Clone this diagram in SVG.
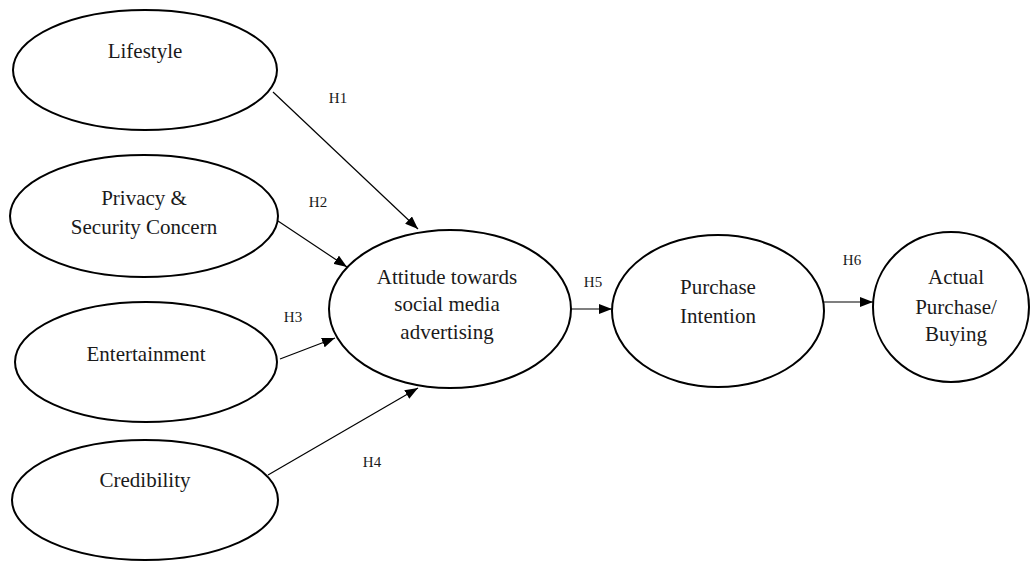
<svg xmlns="http://www.w3.org/2000/svg" width="1030" height="561" viewBox="0 0 1030 561">
<style>
  .node ellipse { fill: #fff; stroke: #000; stroke-width: 2; }
  .node text { font-family: "Liberation Serif", "Times New Roman", serif; font-size: 21px; fill: #1a1a1a; text-anchor: middle; }
  .conn line { stroke: #000; stroke-width: 1.2; marker-end: url(#arr); }
  .lbl { font-family: "Liberation Serif", "Times New Roman", serif; font-size: 15px; fill: #1a1a1a; text-anchor: middle; }
</style>
<defs>
  <marker id="arr" markerWidth="14" markerHeight="10" refX="13" refY="5" orient="auto" markerUnits="userSpaceOnUse">
    <path d="M0,0 L13,5 L0,10 Z" fill="#000"/>
  </marker>
</defs>
<rect width="1030" height="561" fill="#fff"/>
<g id="connectors" class="conn">
  <line x1="273" y1="92" x2="418" y2="229"/>
  <line x1="278" y1="221" x2="347" y2="267"/>
  <line x1="280" y1="359" x2="335" y2="338"/>
  <line x1="268" y1="475" x2="418" y2="388"/>
  <line x1="570" y1="309" x2="612" y2="309"/>
  <line x1="824" y1="302" x2="873" y2="302"/>
</g>
<g id="labels">
  <text class="lbl" x="338" y="103">H1</text>
  <text class="lbl" x="318" y="207">H2</text>
  <text class="lbl" x="293" y="322">H3</text>
  <text class="lbl" x="372" y="467">H4</text>
  <text class="lbl" x="593" y="287">H5</text>
  <text class="lbl" x="852" y="265">H6</text>
</g>
<g id="lifestyle" class="node">
  <ellipse cx="145" cy="70" rx="132" ry="60"/>
  <text x="145" y="58">Lifestyle</text>
</g>
<g id="privacy" class="node">
  <ellipse cx="144" cy="216" rx="134" ry="61"/>
  <text x="144" y="205">Privacy &amp;</text>
  <text x="144" y="234">Security Concern</text>
</g>
<g id="entertainment" class="node">
  <ellipse cx="146" cy="362" rx="131" ry="60"/>
  <text x="146" y="361">Entertainment</text>
</g>
<g id="credibility" class="node">
  <ellipse cx="145" cy="500" rx="133" ry="60"/>
  <text x="145" y="487">Credibility</text>
</g>
<g id="attitude" class="node">
  <ellipse cx="450" cy="309" rx="121" ry="79"/>
  <text x="447" y="284">Attitude towards</text>
  <text x="447" y="311">social media</text>
  <text x="447" y="339">advertising</text>
</g>
<g id="intention" class="node">
  <ellipse cx="718" cy="311" rx="106" ry="76"/>
  <text x="718" y="294">Purchase</text>
  <text x="718" y="323">Intention</text>
</g>
<g id="actual" class="node">
  <ellipse cx="951" cy="307" rx="78" ry="75"/>
  <text x="956" y="284">Actual</text>
  <text x="956" y="314">Purchase/</text>
  <text x="956" y="341">Buying</text>
</g>
</svg>
